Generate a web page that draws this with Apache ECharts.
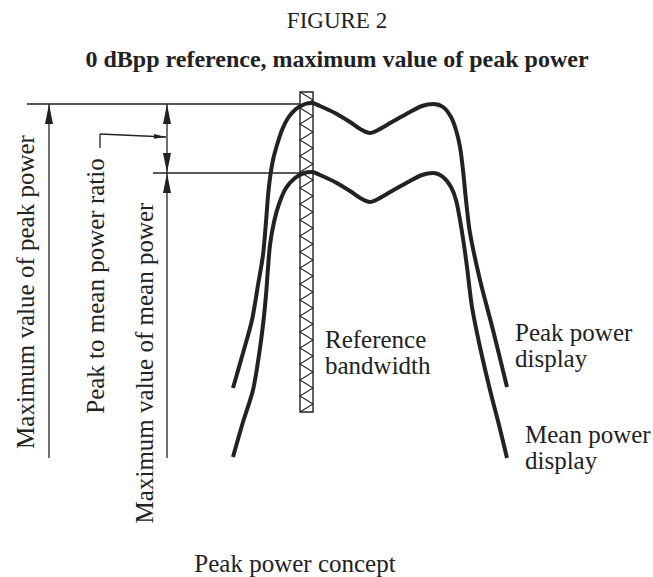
<!DOCTYPE html>
<html>
<head>
<meta charset="utf-8">
<script src="https://cdn.jsdelivr.net/npm/echarts@6/dist/echarts.min.js"></script>
<style>
  html, body { margin: 0; background: #fff; }
  #concept { width: 653px; height: 577px; }
</style>
</head>
<body>
<div id="concept"></div>
<script>
  // curves, [x, y] in figure units (y grows downward)
  const peakDisplay = [
    [233, 388], [243, 353], [252, 320], [258, 285], [263, 255], [266, 222], [268, 196],
    [270, 178], [273, 160], [277, 145], [282, 130], [288, 118], [296, 109], [305, 104],
    [312, 103], [320, 106], [335, 113], [350, 122], [362, 130], [370, 133], [378, 130],
    [392, 122], [408, 113], [422, 106], [433, 104], [443, 107], [451, 117], [456, 130],
    [460, 147], [463, 170], [466, 200], [470, 233], [480, 280], [493, 330], [507, 387]
  ];
  const meanDisplay = [
    [233, 457], [243, 422], [253, 390], [259, 355], [263, 325], [266, 295], [268, 268],
    [270, 245], [274, 222], [279, 204], [286, 188], [295, 178], [304, 173], [312, 172],
    [320, 175], [335, 182], [350, 191], [362, 199], [370, 202], [378, 199], [392, 191],
    [408, 182], [422, 175], [433, 173], [443, 177], [451, 187], [456, 200], [460, 220],
    [464, 245], [467, 267], [472, 307], [480, 347], [490, 390], [499, 425], [507, 458]
  ];

  const levelY = [104, 173];      // max of peak power, max of mean power
  const levelFrom = [27, 153];    // where each level line starts on the left
  const levelTo = 300;
  const dimX = [49, 167];         // dimension arrows
  const dimBase = 458;
  const leader = [[100, 148], [100, 134], [166, 137]];
  const refBand = [300, 92, 313, 412]; // x0, y0, x1, y1

  const ink = '#222';
  const serif = '"Liberation Serif", "Times New Roman", serif';

  // x1, y1, x2, y2, head at start, head at end
  const dimLines = [
    [levelFrom[0], levelY[0], levelTo, levelY[0], 0, 0],
    [levelFrom[1], levelY[1], levelTo, levelY[1], 0, 0],
    [dimX[0], dimBase, dimX[0], levelY[0], 0, 20],
    [dimX[1], levelY[0], dimX[1], levelY[1], 20, 20],
    [dimX[1], dimBase, dimX[1], levelY[1], 0, 20],
    [leader[0][0], leader[0][1], leader[1][0], leader[1][1], 0, 0],
    [leader[1][0], leader[1][1], leader[2][0], leader[2][1], 0, 12]
  ];

  function arrowHead(tip, from, len) {
    const dx = tip[0] - from[0], dy = tip[1] - from[1];
    const d = Math.sqrt(dx * dx + dy * dy);
    const ux = dx / d, uy = dy / d;
    const w = len * 0.2;
    const bx = tip[0] - ux * len, by = tip[1] - uy * len;
    return {
      type: 'polygon',
      shape: { points: [tip, [bx - uy * w, by + ux * w], [bx + uy * w, by - ux * w]] },
      style: { fill: ink }
    };
  }

  function renderDim(params, api) {
    const a = api.coord([api.value(0), api.value(1)]);
    const b = api.coord([api.value(2), api.value(3)]);
    const children = [{
      type: 'line',
      shape: { x1: a[0], y1: a[1], x2: b[0], y2: b[1] },
      style: { stroke: ink, lineWidth: 1.3 }
    }];
    if (api.value(4) > 0) children.push(arrowHead(a, b, api.value(4)));
    if (api.value(5) > 0) children.push(arrowHead(b, a, api.value(5)));
    return { type: 'group', children: children };
  }

  function renderBand(params, api) {
    const p0 = api.coord([api.value(0), api.value(1)]);
    const p1 = api.coord([api.value(2), api.value(3)]);
    const pts = [];
    let left = true;
    for (let y = p0[1]; y < p1[1]; y += 8) {
      pts.push([left ? p0[0] : p1[0], y]);
      left = !left;
    }
    pts.push([left ? p0[0] : p1[0], p1[1]]);
    return {
      type: 'group',
      children: [
        {
          type: 'polyline',
          shape: { points: pts },
          style: { stroke: ink, lineWidth: 1.1, fill: null }
        },
        {
          type: 'rect',
          shape: { x: p0[0], y: p0[1], width: p1[0] - p0[0], height: p1[1] - p0[1] },
          style: { stroke: ink, lineWidth: 1.4, fill: null }
        }
      ]
    };
  }

  function label(text, x, y, size, opts) {
    opts = opts || {};
    return {
      type: 'text',
      x: x,
      y: y,
      rotation: opts.rotation || 0,
      silent: true,
      style: {
        text: text,
        fill: ink,
        fontFamily: serif,
        fontSize: size,
        fontWeight: opts.weight || 'normal',
        lineHeight: 26,
        align: opts.align || 'center',
        verticalAlign: 'middle'
      }
    };
  }

  const chart = echarts.init(document.getElementById('concept'), null, { renderer: 'svg' });
  chart.setOption({
    animation: false,
    backgroundColor: '#fff',
    grid: { left: 0, right: 0, top: 0, bottom: 0 },
    xAxis: { type: 'value', min: 0, max: 653, show: false },
    yAxis: { type: 'value', min: 0, max: 577, inverse: true, show: false },
    graphic: [
      label('FIGURE 2', 337, 20, 23),
      label('0 dBpp reference, maximum value of peak power', 337, 59, 24, { weight: 'bold' }),
      label('Maximum value of peak power', 25, 292, 25, { rotation: Math.PI / 2 }),
      label('Peak to mean power ratio', 95, 286, 25, { rotation: Math.PI / 2 }),
      label('Maximum value of mean power', 144, 363, 25, { rotation: Math.PI / 2 }),
      label('Reference\nbandwidth', 325, 352, 25, { align: 'left' }),
      label('Peak power\ndisplay', 515, 345, 25, { align: 'left' }),
      label('Mean power\ndisplay', 525, 447, 25, { align: 'left' }),
      label('Peak power concept', 295, 563, 25)
    ],
    series: [
      {
        name: 'Peak power display',
        type: 'line',
        data: peakDisplay,
        smooth: 0.3,
        showSymbol: false,
        silent: true,
        lineStyle: { color: ink, width: 4 },
        z: 3
      },
      {
        name: 'Mean power display',
        type: 'line',
        data: meanDisplay,
        smooth: 0.3,
        showSymbol: false,
        silent: true,
        lineStyle: { color: ink, width: 4 },
        z: 3
      },
      {
        name: 'Dimensions',
        type: 'custom',
        renderItem: renderDim,
        data: dimLines,
        silent: true,
        z: 2
      },
      {
        name: 'Reference bandwidth',
        type: 'custom',
        renderItem: renderBand,
        data: [refBand],
        silent: true,
        z: 2
      }
    ]
  });
</script>
</body>
</html>
